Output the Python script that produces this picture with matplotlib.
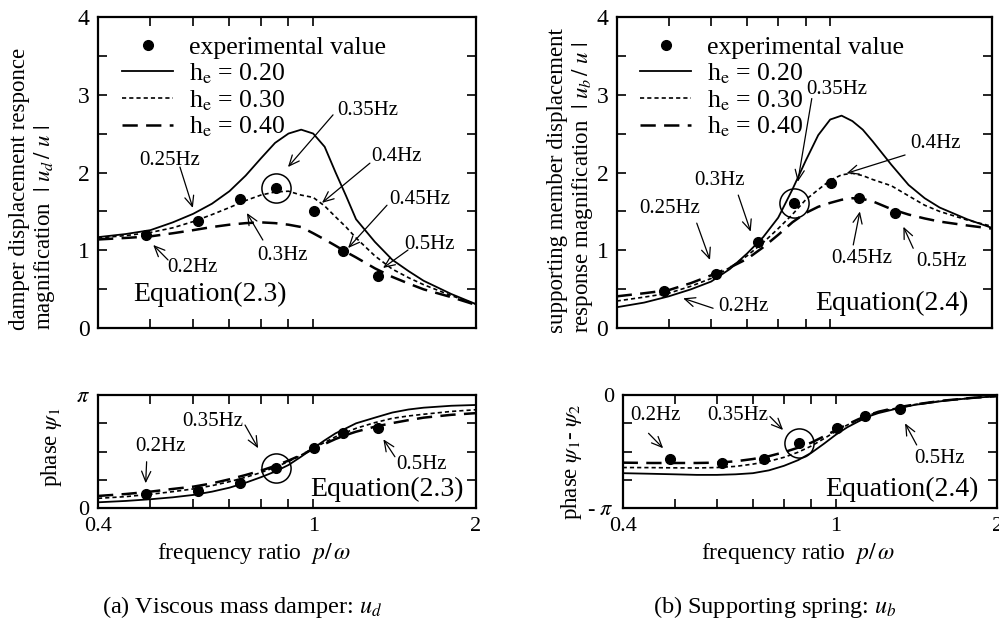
import matplotlib.pyplot as plt
import numpy as np

plt.rcParams['font.family'] = ['Liberation Serif', 'DejaVu Serif']
plt.rcParams['mathtext.fontset'] = 'stix'
plt.rcParams['lines.scale_dashes'] = False

# frequency ratio p/omega at which the theory curves were read
ratio = [0.4, 0.45, 0.5, 0.55, 0.6, 0.65, 0.7, 0.75, 0.8, 0.85, 0.9, 0.95,
         1.0, 1.05, 1.1, 1.15, 1.2, 1.3, 1.4, 1.5, 1.6, 1.8, 2.0]

# |u_d/u|, Equation(2.3)
ud_h20 = [1.17, 1.21, 1.26, 1.36, 1.47, 1.60, 1.76, 1.96, 2.18, 2.38, 2.50, 2.55,
          2.50, 2.33, 2.00, 1.70, 1.40, 1.11, 0.88, 0.735, 0.61, 0.44, 0.31]
ud_h30 = [1.16, 1.19, 1.23, 1.29, 1.37, 1.46, 1.55, 1.64, 1.71, 1.75, 1.76, 1.71,
          1.68, 1.57, 1.43, 1.30, 1.16, 0.93, 0.76, 0.65, 0.56, 0.42, 0.31]
ud_h40 = [1.14, 1.16, 1.18, 1.22, 1.26, 1.30, 1.33, 1.35, 1.36, 1.35, 1.33, 1.30,
          1.22, 1.14, 1.06, 0.98, 0.91, 0.77, 0.66, 0.575, 0.50, 0.40, 0.30]

# |u_b/u|, Equation(2.4)
ub_h20 = [0.27, 0.33, 0.41, 0.50, 0.60, 0.76, 0.96, 1.17, 1.42, 1.78, 2.15, 2.48,
          2.68, 2.73, 2.66, 2.55, 2.40, 2.10, 1.84, 1.67, 1.55, 1.40, 1.29]
ub_h30 = [0.35, 0.40, 0.45, 0.54, 0.64, 0.78, 0.93, 1.10, 1.28, 1.46, 1.65, 1.78,
          1.90, 1.97, 1.99, 1.96, 1.91, 1.83, 1.70, 1.58, 1.50, 1.39, 1.31]
ub_h40 = [0.41, 0.45, 0.49, 0.58, 0.68, 0.78, 0.89, 1.04, 1.20, 1.36, 1.48, 1.56,
          1.61, 1.65, 1.67, 1.66, 1.63, 1.53, 1.46, 1.41, 1.37, 1.32, 1.28]

# phase psi_1, in units of pi
p1_h20 = [0.053, 0.065, 0.08, 0.097, 0.118, 0.147, 0.182, 0.226, 0.274, 0.324, 0.382, 0.456,
          0.53, 0.60, 0.662, 0.706, 0.75, 0.80, 0.845, 0.872, 0.888, 0.905, 0.912]
p1_h30 = [0.088, 0.103, 0.124, 0.147, 0.171, 0.20, 0.235, 0.274, 0.315, 0.362, 0.412, 0.47,
          0.53, 0.582, 0.632, 0.67, 0.706, 0.756, 0.794, 0.815, 0.83, 0.855, 0.87]
p1_h40 = [0.109, 0.126, 0.147, 0.171, 0.191, 0.22, 0.256, 0.294, 0.332, 0.374, 0.421, 0.47,
          0.524, 0.568, 0.612, 0.647, 0.676, 0.72, 0.752, 0.778, 0.80, 0.825, 0.84]

# phase psi_1 - psi_2, in units of pi
p12_h20 = [-0.69, -0.695, -0.70, -0.705, -0.705, -0.70, -0.69, -0.665, -0.625, -0.575, -0.51, -0.43,
           -0.35, -0.285, -0.235, -0.19, -0.16, -0.12, -0.088, -0.068, -0.05, -0.026, -0.01]
p12_h30 = [-0.64, -0.641, -0.643, -0.644, -0.64, -0.63, -0.61, -0.585, -0.55, -0.505, -0.45, -0.385,
           -0.32, -0.265, -0.22, -0.18, -0.15, -0.115, -0.085, -0.065, -0.048, -0.025, -0.01]
p12_h40 = [-0.597, -0.60, -0.60, -0.60, -0.597, -0.585, -0.565, -0.54, -0.505, -0.465, -0.42, -0.365,
           -0.31, -0.26, -0.215, -0.178, -0.148, -0.11, -0.085, -0.065, -0.048, -0.025, -0.01]

# experimental values (0.2Hz ... 0.5Hz)
exp_ratio = [0.49, 0.612, 0.733, 0.855, 1.004, 1.134, 1.318]
exp_ud = [1.20, 1.38, 1.665, 1.80, 1.50, 0.995, 0.665]
exp_ub = [0.475, 0.70, 1.11, 1.605, 1.87, 1.67, 1.476]
exp_p1 = [0.124, 0.153, 0.221, 0.359, 0.529, 0.662, 0.712]
exp_p12 = [-0.568, -0.597, -0.565, -0.426, -0.294, -0.182, -0.124]

labels = ['h$_\\mathrm{e}$ = 0.20', 'h$_\\mathrm{e}$ = 0.30', 'h$_\\mathrm{e}$ = 0.40']
styles = [dict(color='k', lw=1.3, ls='-'),
          dict(color='k', lw=1.2, dashes=(3, 2.2)),
          dict(color='k', lw=1.8, dashes=(11, 6))]

fig = plt.figure(figsize=(9.99, 6.24), dpi=100)
ax_ud = fig.add_axes([0.0981, 0.4739, 0.3784, 0.4993])
ax_ub = fig.add_axes([0.6173, 0.4739, 0.3754, 0.4993])
ax_p1 = fig.add_axes([0.0981, 0.1854, 0.3784, 0.1816])
ax_p12 = fig.add_axes([0.6233, 0.1854, 0.3749, 0.1816])


def setup(ax, bottom_labels):
    ax.set_xscale('log')
    ax.set_xlim(0.4, 2)
    if bottom_labels:
        ax.set_xticks([0.4, 1, 2], ['0.4', '1', '2'])
    else:
        ax.set_xticks([0.4, 1, 2], ['', '', ''])
    ax.set_xticks([0.5, 0.6, 0.7, 0.8, 0.9], minor=True)
    ax.xaxis.set_minor_formatter(plt.NullFormatter())
    ax.tick_params(which='both', direction='in', top=True, right=True,
                   length=6.5, width=1.2, labelsize=16 if bottom_labels else 17, pad=6)
    for s in ax.spines.values():
        s.set_linewidth(1.6)


def curves(ax, series, scale=1.0):
    handles = []
    for vals, st, lab in zip(series, styles, labels):
        h, = ax.plot(ratio, np.array(vals) * scale, label=lab, **st)
        handles.append(h)
    return handles


def points(ax, vals, scale=1.0):
    v = np.array(vals) * scale
    pt, = ax.plot(exp_ratio, v, 'o', color='k', ms=7, zorder=5,
                  label='experimental value')
    # circled 0.35Hz point
    ax.plot(exp_ratio[3], v[3], 'o', ms=21, mfc='none', mec='k', mew=1.1, zorder=5)
    return pt


def notes(ax, items, scale=1.0):
    for lab, txt, tail, tip in items:
        ax.text(txt[0], txt[1] * scale, lab, ha='center', va='center', fontsize=15)
        ax.annotate('', xy=(tip[0], tip[1] * scale), xytext=(tail[0], tail[1] * scale),
                    arrowprops=dict(arrowstyle='->,head_length=0.5,head_width=0.22',
                                    color='k', lw=0.9, shrinkA=0, shrinkB=0,
                                    mutation_scale=15))


def legend(ax, pt, hs, x):
    ax.legend(handles=[pt] + hs, loc='upper left', bbox_to_anchor=(x, 0.937),
              frameon=False, fontsize=18.5, handlelength=2.0, handletextpad=0.6,
              labelspacing=0.08, borderpad=0, borderaxespad=0, numpoints=1)


# (a) top: |u_d/u|
setup(ax_ud, False)
hs = curves(ax_ud, [ud_h20, ud_h30, ud_h40])
pt = points(ax_ud, exp_ud)
ax_ud.set_ylim(0, 4)
ax_ud.set_yticks([0, 1, 2, 3, 4])
ax_ud.set_yticks([0.5, 1.5, 2.5, 3.5], minor=True)
legend(ax_ud, pt, hs, 0.063)
notes(ax_ud, [('0.35Hz', (1.263, 2.80), (1.088, 2.74), (0.898, 2.07)),
              ('0.25Hz', (0.543, 2.16), (0.567, 2.07), (0.599, 1.545)),
              ('0.4Hz', (1.428, 2.20), (1.273, 2.12), (1.038, 1.61)),
              ('0.45Hz', (1.575, 1.65), (1.369, 1.58), (1.16, 1.03)),
              ('0.5Hz', (1.644, 1.07), (1.497, 1.005), (1.346, 0.774)),
              ('0.3Hz', (0.879, 0.94), (0.807, 1.133), (0.754, 1.48)),
              ('0.2Hz', (0.599, 0.774), (0.539, 0.877), (0.506, 1.07))])
ax_ud.text(0.645, 0.43, 'Equation(2.3)', ha='center', va='center', fontsize=20)

# (b) top: |u_b/u|
setup(ax_ub, False)
hs = curves(ax_ub, [ub_h20, ub_h30, ub_h40])
pt = points(ax_ub, exp_ub)
ax_ub.set_ylim(0, 4)
ax_ub.set_yticks([0, 1, 2, 3, 4])
ax_ub.set_yticks([0.5, 1.5, 2.5, 3.5], minor=True)
legend(ax_ub, pt, hs, 0.062)
notes(ax_ub, [('0.35Hz', (1.028, 3.06), (0.924, 2.95), (0.87, 1.88)),
              ('0.4Hz', (1.568, 2.375), (1.379, 2.225), (1.073, 1.99)),
              ('0.3Hz', (0.623, 1.90), (0.674, 1.71), (0.711, 1.24)),
              ('0.25Hz', (0.503, 1.54), (0.564, 1.35), (0.597, 0.877)),
              ('0.2Hz', (0.689, 0.277), (0.605, 0.257), (0.532, 0.385)),
              ('0.45Hz', (1.145, 0.90), (1.104, 1.07), (1.136, 1.50)),
              ('0.5Hz', (1.613, 0.855), (1.428, 1.027), (1.369, 1.304))])
ax_ub.text(1.302, 0.32, 'Equation(2.4)', ha='center', va='center', fontsize=20)

# (a) bottom: phase psi_1
setup(ax_p1, True)
curves(ax_p1, [p1_h20, p1_h30, p1_h40], np.pi)
points(ax_p1, exp_p1, np.pi)
ax_p1.set_ylim(0, np.pi)
ax_p1.set_yticks([0, np.pi], ['0', '$\\pi$'])
ax_p1.set_yticks([np.pi / 4, np.pi / 2, 3 * np.pi / 4], minor=True)
notes(ax_p1, [('0.2Hz', (0.521, 0.544), (0.492, 0.411), (0.49, 0.221)),
              ('0.35Hz', (0.653, 0.764), (0.748, 0.735), (0.791, 0.53)),
              ('0.5Hz', (1.587, 0.385), (1.416, 0.455), (1.348, 0.609))], np.pi)
ax_p1.text(1.367, 0.165 * np.pi, 'Equation(2.3)', ha='center', va='center', fontsize=20)

# (b) bottom: phase psi_1 - psi_2
setup(ax_p12, True)
curves(ax_p12, [p12_h20, p12_h30, p12_h40], np.pi)
points(ax_p12, exp_p12, np.pi)
ax_p12.set_ylim(-np.pi, 0)
ax_p12.set_yticks([-np.pi, 0], ['- $\\pi$', '0'])
ax_p12.set_yticks([-3 * np.pi / 4, -np.pi / 2, -np.pi / 4], minor=True)
notes(ax_p12, [('0.2Hz', (0.46, -0.177), (0.447, -0.338), (0.476, -0.47)),
               ('0.35Hz', (0.655, -0.177), (0.753, -0.19), (0.797, -0.309)),
               ('0.5Hz', (1.564, -0.559), (1.415, -0.441), (1.346, -0.25))], np.pi)
ax_p12.text(1.327, -0.832 * np.pi, 'Equation(2.4)', ha='center', va='center', fontsize=20)

# axis titles
fig.text(33 / 999, 1 - 330 / 624,
         'damper displacement responce\nmagnification  $|\\ u_d\\,/\\ u\\ |$',
         rotation=90, ha='center', va='bottom', multialignment='left',
         fontsize=16.5, linespacing=1.1)
fig.text(571 / 999, 1 - 333 / 624,
         'supporting member displacement\nresponse magnification  $|\\ u_b\\,/\\ u\\ |$',
         rotation=90, ha='center', va='bottom', multialignment='left',
         fontsize=16.5, linespacing=1.1)
fig.text(52 / 999, 1 - 487 / 624, 'phase $\\psi_1$', rotation=90,
         ha='center', va='bottom', fontsize=16.5)
fig.text(571 / 999, 1 - 520 / 624, 'phase $\\psi_1$- $\\psi_2$', rotation=90,
         ha='center', va='bottom', fontsize=16.5)
fig.text(254 / 999, 1 - 553 / 624, 'frequency ratio  $p/\\,\\omega$',
         ha='center', va='center', fontsize=17)
fig.text(798 / 999, 1 - 554 / 624, 'frequency ratio  $p/\\,\\omega$',
         ha='center', va='center', fontsize=17)
fig.text(242 / 999, 1 - 607 / 624, '(a) Viscous mass damper: $u_d$',
         ha='center', va='center', fontsize=17.5)
fig.text(775 / 999, 1 - 607 / 624, '(b) Supporting spring: $u_b$',
         ha='center', va='center', fontsize=17.5)

fig.savefig('out.png', dpi=100)
